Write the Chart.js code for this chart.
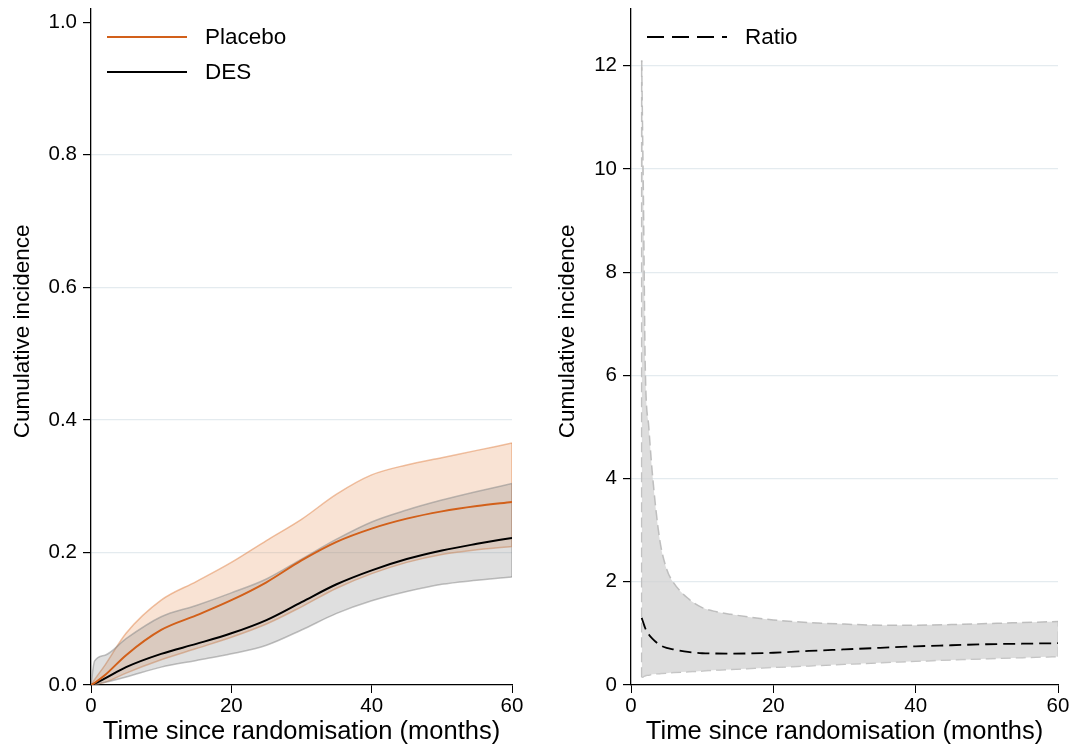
<!DOCTYPE html>
<html>
<head>
<meta charset="utf-8">
<script src="https://cdn.jsdelivr.net/npm/chart.js@4.4.1/dist/chart.umd.min.js"></script>
<style>
html,body{margin:0;padding:0;background:#fff;}
#wrap{position:relative;width:1076px;height:748px;}
.box{position:absolute;top:0;width:538px;height:748px;}
</style>
</head>
<body>
<div id="wrap">
<div class="box" style="left:0"><canvas id="leftChart"></canvas></div>
<div class="box" style="left:538px"><canvas id="rightChart"></canvas></div>
</div>
<script>
/* DATA - left panel */
const leftT      = [0, 0.5, 2, 5, 10, 15, 20, 25, 30, 35, 40, 45, 50, 55, 60];
const placebo    = [0, 0.003, 0.015, 0.045, 0.083, 0.105, 0.128, 0.155, 0.188, 0.216, 0.236, 0.251, 0.262, 0.27, 0.276];
const placeboHi  = [0, 0.008, 0.03, 0.078, 0.128, 0.156, 0.185, 0.218, 0.25, 0.288, 0.317, 0.332, 0.343, 0.354, 0.365];
const placeboLo  = [0, 0.001, 0.004, 0.018, 0.038, 0.055, 0.072, 0.092, 0.118, 0.146, 0.168, 0.185, 0.197, 0.204, 0.209];
const des        = [0, 0.002, 0.01, 0.027, 0.047, 0.062, 0.078, 0.098, 0.125, 0.152, 0.173, 0.19, 0.203, 0.213, 0.222];
const desHi      = [0, 0.036, 0.045, 0.07, 0.103, 0.12, 0.139, 0.16, 0.19, 0.22, 0.246, 0.264, 0.279, 0.292, 0.304];
const desLo      = [0, 0.001, 0.004, 0.012, 0.027, 0.037, 0.047, 0.06, 0.083, 0.108, 0.127, 0.141, 0.152, 0.158, 0.163];

/* DATA - right panel */
const rightT  = [1.5, 1.75, 2, 2.5, 3, 4, 5, 6, 8, 10, 12, 14, 20, 25, 30, 35, 40, 45, 50, 55, 60];
const ratio   = [1.3, 1.2, 1.1, 0.98, 0.9, 0.78, 0.72, 0.69, 0.64, 0.615, 0.61, 0.608, 0.625, 0.66, 0.69, 0.72, 0.75, 0.77, 0.79, 0.80, 0.81];
const ratioHi = [12.1, 9.4, 6.2, 5.0, 4.1, 2.85, 2.25, 1.98, 1.68, 1.5, 1.42, 1.37, 1.26, 1.21, 1.18, 1.16, 1.16, 1.17, 1.19, 1.21, 1.23];
const ratioLo = [0.15, 0.16, 0.18, 0.19, 0.21, 0.22, 0.23, 0.24, 0.255, 0.27, 0.29, 0.30, 0.34, 0.37, 0.40, 0.43, 0.46, 0.485, 0.51, 0.53, 0.55];

/* TICKS / LABELS */
const xTicks = [0, 20, 40, 60];
const leftYTicks = [0, 0.2, 0.4, 0.6, 0.8, 1.0];
const rightYTicks = [0, 2, 4, 6, 8, 10, 12];
const xTitle = "Time since randomisation (months)";
const yTitle = "Cumulative incidence";

const FONT = "'Liberation Sans', Arial, Helvetica, sans-serif";
const ORANGE = "#d2601a";
const GRID = "#e4ebef";

function pts(t, v){ return t.map((x,i)=>({x:x,y:v[i]})); }
function edge(t, lo, hi, i){ return [{x:t[i],y:lo[i]},{x:t[i],y:hi[i]}]; }

/* legend drawn inside the plot area */
const insideLegend = {
id:"insideLegend",
afterDraw(chart){
const ctx=chart.ctx, a=chart.chartArea;
const items=chart.data.datasets.filter(d=>d.inLegend);
ctx.save();
items.forEach((d,i)=>{
const y=a.top+28+i*35;
const x0=a.left+16;
ctx.beginPath();
ctx.setLineDash(d.legendDash||[]);
ctx.strokeStyle=d.borderColor;
ctx.lineWidth=d.borderWidth;
ctx.moveTo(x0,y);ctx.lineTo(x0+80,y);ctx.stroke();
ctx.setLineDash([]);
ctx.fillStyle="#000";
ctx.font="22.5px "+FONT;
ctx.textBaseline="middle";
ctx.fillText(d.label,x0+98,y+1);
});
ctx.restore();
}
};

function yAxis(max, ticks, fmt, width, titlePad, hideTop){
return {
type:"linear",min:0,max:max,
afterBuildTicks:s=>{s.ticks=ticks.map(v=>({value:v}));},
afterFit:s=>{s.width=width;s.paddingTop=0;s.paddingBottom=0;},
border:{color:"#000",width:1.3},
grid:{
color:c=>{
if(!c.tick||c.tick.value===0) return "rgba(0,0,0,0)";
if(hideTop&&c.tick.value===ticks[ticks.length-1]) return "rgba(0,0,0,0)";
return GRID;
},
tickColor:"#000",tickLength:8,lineWidth:1.2},
ticks:{color:"#000",font:{family:FONT,size:20.5},padding:6,callback:fmt},
title:{display:true,text:"\u00a0\u00a0\u00a0\u00a0\u00a0"+yTitle,color:"#000",font:{family:FONT,size:22.5},padding:{top:titlePad,bottom:0}}
};
}

function xAxis(){
return {
type:"linear",min:0,max:60,
afterBuildTicks:s=>{s.ticks=xTicks.map(v=>({value:v}));},
afterFit:s=>{s.height=63;s.paddingLeft=0;s.paddingRight=0;},
border:{color:"#000",width:1.3},
grid:{drawOnChartArea:false,color:"#000",tickColor:"#000",tickLength:8},
ticks:{color:"#000",font:{family:FONT,size:20.5},padding:1},
title:{display:true,text:xTitle,color:"#000",font:{family:FONT,size:25.5},padding:{top:0,bottom:1}}
};
}

const common = {
responsive:false,animation:false,
plugins:{legend:{display:false},tooltip:{enabled:false}},
elements:{point:{radius:0},line:{cubicInterpolationMode:"monotone"}}
};

/* LEFT */
const lc=document.getElementById("leftChart");
lc.width=538;lc.height=748;
new Chart(lc,{
type:"line",
data:{datasets:[
{label:"Placebo",inLegend:true,data:pts(leftT,placebo),borderColor:ORANGE,borderWidth:2,fill:false},
{label:"DES",inLegend:true,data:pts(leftT,des),borderColor:"#000",borderWidth:2,fill:false},
{data:pts(leftT,desHi),borderColor:"rgba(140,140,140,0.55)",borderWidth:1.5,backgroundColor:"rgba(130,130,130,0.26)",fill:"+1"},
{data:pts(leftT,desLo),borderColor:"rgba(140,140,140,0.55)",borderWidth:1.5,fill:false},
{data:pts(leftT,placeboHi),borderColor:"rgba(225,140,85,0.55)",borderWidth:1.5,backgroundColor:"rgba(232,140,75,0.24)",fill:"+1"},
{data:pts(leftT,placeboLo),borderColor:"rgba(225,140,85,0.55)",borderWidth:1.5,fill:false},
{data:edge(leftT,desLo,desHi,leftT.length-1),borderColor:"rgba(140,140,140,0.55)",borderWidth:1.5,fill:false},
{data:edge(leftT,placeboLo,placeboHi,leftT.length-1),borderColor:"rgba(225,140,85,0.55)",borderWidth:1.5,fill:false}
]},
options:Object.assign({},common,{
layout:{padding:{left:0,right:26,top:9,bottom:0}},
scales:{
x:xAxis(),
y:yAxis(1.02,leftYTicks,v=>v.toFixed(1),91,9.5,true)
}
}),
plugins:[insideLegend]
});

/* RIGHT */
const rc=document.getElementById("rightChart");
rc.width=538;rc.height=748;
const bandEdge="rgba(185,185,185,0.9)";
new Chart(rc,{
type:"line",
data:{datasets:[
{label:"Ratio",inLegend:true,legendDash:[17,8],data:pts(rightT,ratio),borderColor:"#000",borderWidth:1.8,borderDash:[12,6],fill:false},
{data:pts(rightT,ratioHi),borderColor:bandEdge,borderWidth:1.5,borderDash:[10,5],backgroundColor:"rgba(210,210,210,0.75)",fill:"+1"},
{data:pts(rightT,ratioLo),borderColor:bandEdge,borderWidth:1.5,borderDash:[10,5],fill:false},
{data:edge(rightT,ratioLo,ratioHi,0),borderColor:bandEdge,borderWidth:1.5,borderDash:[10,5],fill:false},
{data:edge(rightT,ratioLo,ratioHi,rightT.length-1),borderColor:bandEdge,borderWidth:1.5,borderDash:[10,5],fill:false}
]},
options:Object.assign({},common,{
layout:{padding:{left:0,right:18,top:9,bottom:0}},
scales:{
x:xAxis(),
y:yAxis(13.1,rightYTicks,v=>String(v),93,16.5,false)
}
}),
plugins:[insideLegend]
});
</script>
</body>
</html>
